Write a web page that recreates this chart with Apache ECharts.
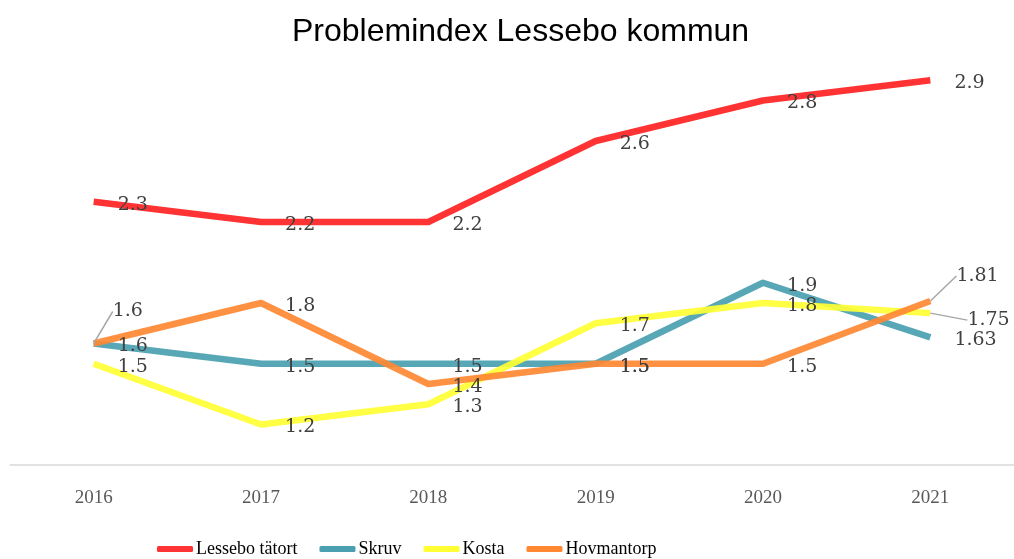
<!DOCTYPE html>
<html><head><meta charset="utf-8">
<script src="https://cdn.jsdelivr.net/npm/echarts@6/dist/echarts.min.js"></script>
<style>html,body{margin:0;padding:0;background:#fff}#c{width:1014px;height:559px}</style>
</head><body><div id="c"></div>
<script>
const years = ['2016','2017','2018','2019','2020','2021'];
const lessebo = [2.3, 2.2, 2.2, 2.6, 2.8, 2.9];
const skruv = [1.6, 1.5, 1.5, 1.5, 1.9, 1.63];
const kosta = [1.5, 1.2, 1.3, 1.7, 1.8, 1.75];
const hovmantorp = [1.6, 1.8, 1.4, 1.5, 1.5, 1.81];
const names = ['Lessebo tätort','Skruv','Kosta','Hovmantorp'];
const colors = ['#FF3333','#4A9FB0','#FFFF33','#FF8833'];
const seriesData = [lessebo, skruv, kosta, hovmantorp];

// label displacements (seriesIndex-dataIndex)
const moved = { '3-0': [-5, -35], '3-5': [2, -28], '2-5': [13, 4] };

const chart = echarts.init(document.getElementById('c'));
chart.setOption({
  animation: false,
  title: { text: 'Problemindex Lessebo kommun', left: 287, top: 11,
    textStyle: { fontFamily: 'Liberation Sans', fontSize: 32, fontWeight: 'normal', color: '#000' } },
  legend: { left: 152, bottom: -4, itemWidth: 36, itemHeight: 6, itemGap: 22, icon: 'roundRect',
    textStyle: { fontFamily: 'Liberation Serif', fontSize: 18, color: '#000', padding: [0,0,0,-2] },
    data: names.map((n, i) => ({ name: n, itemStyle: { color: colors[i], opacity: 1 } })) },
  grid: { left: 10, right: -5, top: 60, bottom: 94 },
  xAxis: { type: 'category', data: years, boundaryGap: true,
    axisLine: { lineStyle: { color: '#D9D9D9', width: 1.5 } }, axisTick: { show: false },
    axisLabel: { fontFamily: 'Liberation Serif', fontSize: 19, color: '#595959', margin: 24 } },
  yAxis: { type: 'value', min: 1, max: 3, show: false, splitLine: { show: false } },
  series: seriesData.map((d, i) => ({
    name: names[i], type: 'line', symbol: 'circle', symbolSize: 0.1,
    data: d.map((v, j) => moved[i + '-' + j]
      ? { value: v, labelLine: { show: true, lineStyle: { color: '#A6A6A6', width: 1.5 } } }
      : v),
    itemStyle: { color: colors[i] },
    lineStyle: { color: colors[i], width: 6.5, opacity: i === 0 ? 1 : 0.92, join: 'round' },
    label: { show: true, position: 'right', distance: 24, fontFamily: 'DejaVu Serif', fontSize: 19, color: '#404040' },
    labelLine: { show: false },
    labelLayout: function (p) {
      const m = moved[p.seriesIndex + '-' + p.dataIndex] || [0, 0];
      return { dx: m[0], dy: m[1] + 3 };
    }
  }))
});
</script></body></html>
